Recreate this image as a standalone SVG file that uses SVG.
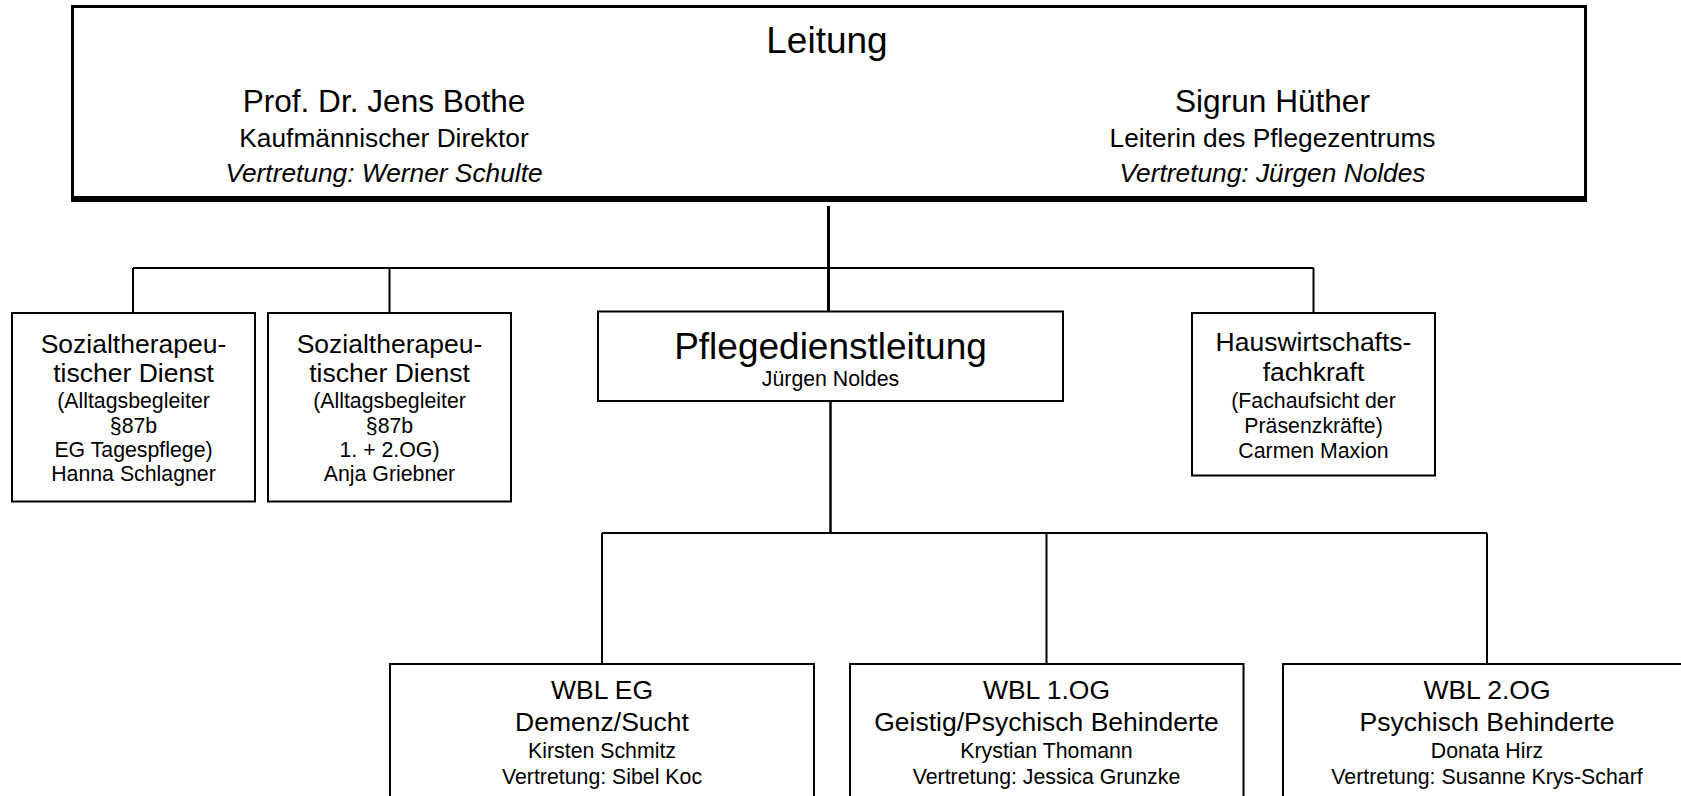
<svg xmlns="http://www.w3.org/2000/svg" width="1681" height="796" viewBox="0 0 1681 796">
<style>
text{font-family:"Liberation Sans",Arial,sans-serif;fill:#000;text-anchor:middle}
.box{fill:#fff;stroke:#000;stroke-width:2}
.t37{font-size:37px}
.t31{font-size:31.6px}
.t26{font-size:26.3px}
.t265{font-size:26.5px}
.t21{font-size:21.3px}
.it{font-style:italic}
.con{stroke:#000;fill:none}
</style>
<rect width="1681" height="796" fill="#fff"/>
<g id="connectors">
<line class="con" x1="828.5" y1="206" x2="828.5" y2="312" stroke-width="3"/>
<line class="con" x1="133" y1="268" x2="1313.5" y2="268" stroke-width="2"/>
<line class="con" x1="133" y1="268" x2="133" y2="313" stroke-width="2"/>
<line class="con" x1="389.5" y1="268" x2="389.5" y2="313" stroke-width="2"/>
<line class="con" x1="1313.5" y1="268" x2="1313.5" y2="313" stroke-width="2"/>
<line class="con" x1="830.5" y1="401" x2="830.5" y2="534" stroke-width="2.5"/>
<line class="con" x1="602" y1="533" x2="1487" y2="533" stroke-width="2"/>
<line class="con" x1="602" y1="533" x2="602" y2="664" stroke-width="2"/>
<line class="con" x1="1046.5" y1="533" x2="1046.5" y2="664" stroke-width="2"/>
<line class="con" x1="1487" y1="533" x2="1487" y2="664" stroke-width="2"/>
</g>
<g id="leitung">
<rect x="72.5" y="6.5" width="1513" height="192" fill="#fff" stroke="#000" stroke-width="3"/>
<line x1="71" y1="199" x2="1587" y2="199" stroke="#000" stroke-width="6"/>
<text class="t37" x="827" y="53">Leitung</text>
<text class="t31" x="384" y="112">Prof. Dr. Jens Bothe</text>
<text class="t26" x="384" y="147">Kaufmännischer Direktor</text>
<text class="t26 it" x="384" y="182">Vertretung: Werner Schulte</text>
<text class="t31" x="1272.5" y="112">Sigrun Hüther</text>
<text class="t26" x="1272.5" y="147">Leiterin des Pflegezentrums</text>
<text class="t26 it" x="1272.5" y="182">Vertretung: Jürgen Noldes</text>
</g>
<g id="sozial1">
<rect class="box" x="12" y="313" width="243" height="188.5"/>
<text class="t265" x="133.5" y="353">Sozialtherapeu-</text>
<text class="t265" x="133.5" y="382">tischer Dienst</text>
<text class="t21" x="133.5" y="408">(Alltagsbegleiter</text>
<text class="t21" x="133.5" y="432.5">§87b</text>
<text class="t21" x="133.5" y="457">EG Tagespflege)</text>
<text class="t21" x="133.5" y="481">Hanna Schlagner</text>
</g>
<g id="sozial2">
<rect class="box" x="268" y="313" width="243" height="188.5"/>
<text class="t265" x="389.5" y="353">Sozialtherapeu-</text>
<text class="t265" x="389.5" y="382">tischer Dienst</text>
<text class="t21" x="389.5" y="408">(Alltagsbegleiter</text>
<text class="t21" x="389.5" y="432.5">§87b</text>
<text class="t21" x="389.5" y="457">1. + 2.OG)</text>
<text class="t21" x="389.5" y="481">Anja Griebner</text>
</g>
<g id="pflegedienstleitung">
<rect class="box" x="598" y="311.5" width="465" height="89.5"/>
<text class="t37" x="830.5" y="359">Pflegedienstleitung</text>
<text class="t21" x="830.5" y="386">Jürgen Noldes</text>
</g>
<g id="hauswirtschaft">
<rect class="box" x="1192" y="313" width="243" height="162.5"/>
<text class="t265" x="1313.5" y="351">Hauswirtschafts-</text>
<text class="t265" x="1313.5" y="381">fachkraft</text>
<text class="t21" x="1313.5" y="408">(Fachaufsicht der</text>
<text class="t21" x="1313.5" y="433">Präsenzkräfte)</text>
<text class="t21" x="1313.5" y="458">Carmen Maxion</text>
</g>
<g id="wbl-eg">
<rect class="box" x="390" y="664" width="424" height="140"/>
<text class="t265" x="602" y="699">WBL EG</text>
<text class="t265" x="602" y="731">Demenz/Sucht</text>
<text class="t21" x="602" y="758">Kirsten Schmitz</text>
<text class="t21" x="602" y="784">Vertretung: Sibel Koc</text>
</g>
<g id="wbl-1og">
<rect class="box" x="850" y="664" width="393.5" height="140"/>
<text class="t265" x="1046.5" y="699">WBL 1.OG</text>
<text class="t265" x="1046.5" y="731">Geistig/Psychisch Behinderte</text>
<text class="t21" x="1046.5" y="758">Krystian Thomann</text>
<text class="t21" x="1046.5" y="784">Vertretung: Jessica Grunzke</text>
</g>
<g id="wbl-2og">
<rect class="box" x="1283" y="664" width="408" height="140"/>
<text class="t265" x="1487" y="699">WBL 2.OG</text>
<text class="t265" x="1487" y="731">Psychisch Behinderte</text>
<text class="t21" x="1487" y="758">Donata Hirz</text>
<text class="t21" x="1487" y="784">Vertretung: Susanne Krys-Scharf</text>
</g>
</svg>
